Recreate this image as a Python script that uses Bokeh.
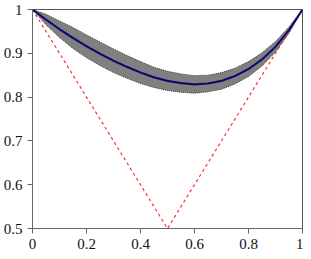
from bokeh.plotting import figure
from bokeh.models import FixedTicker, CustomJSTickFormatter, Range1d
from bokeh.embed import file_html
from bokeh.resources import INLINE

# data
x_vals = [0.00, 0.05, 0.10, 0.15, 0.20, 0.25, 0.30, 0.35, 0.40, 0.45, 0.50,
          0.55, 0.60, 0.65, 0.70, 0.75, 0.80, 0.85, 0.90, 0.95, 1.00]
mean_vals = [1.000, 0.977, 0.955, 0.935, 0.916, 0.899, 0.883, 0.869, 0.856, 0.845, 0.837,
             0.832, 0.829, 0.831, 0.837, 0.848, 0.864, 0.886, 0.915, 0.953, 1.000]
band_upper = [1.000, 0.989, 0.974, 0.959, 0.942, 0.926, 0.910, 0.895, 0.881, 0.868, 0.859,
              0.853, 0.849, 0.850, 0.856, 0.866, 0.881, 0.901, 0.927, 0.960, 1.000]
band_lower = [1.000, 0.965, 0.936, 0.911, 0.890, 0.872, 0.856, 0.843, 0.831, 0.822, 0.815,
              0.811, 0.809, 0.812, 0.818, 0.830, 0.847, 0.871, 0.903, 0.946, 1.000]
ref_x = [0.0, 0.5, 1.0]
ref_y = [1.0, 0.5, 1.0]
x_ticks = [0, 0.2, 0.4, 0.6, 0.8, 1.0]
y_ticks = [0.5, 0.6, 0.7, 0.8, 0.9, 1.0]

FONT = "Liberation Serif"

p = figure(width=303, height=251, output_backend="svg", toolbar_location=None,
           x_range=Range1d(0, 1), y_range=Range1d(0.5, 1))
p.min_border = 0
p.min_border_top = 9
p.min_border_right = 1
p.background_fill_color = "white"
p.border_fill_color = "white"
p.outline_line_color = "#555555"
p.outline_line_width = 1
p.xgrid.visible = False
p.ygrid.visible = False

fmt = CustomJSTickFormatter(code="return (Math.round(tick*10)/10).toString();")
for ax, ticks in ((p.xaxis, x_ticks), (p.yaxis, y_ticks)):
    ax.ticker = FixedTicker(ticks=ticks)
    ax.formatter = fmt
    ax.axis_line_color = "#666666"
    ax.major_tick_line_color = "#666666"
    ax.major_tick_out = 5
    ax.major_tick_in = 0
    ax.minor_tick_line_color = None
    ax.major_label_text_font = FONT
    ax.major_label_text_font_size = "15px"
    ax.major_label_text_color = "#111111"
p.yaxis.major_label_standoff = 5
p.xaxis.major_label_standoff = 5

p.varea(x=x_vals, y1=band_lower, y2=band_upper, fill_color="#808080", fill_alpha=1.0)
p.line(x_vals, band_upper, line_color="#333333", line_width=1, line_dash="1 1")
p.line(x_vals, band_lower, line_color="#333333", line_width=1, line_dash="1 1")
p.line(ref_x, ref_y, line_color="#ff3030", line_width=1.2, line_dash="3 3")
p.line(x_vals, mean_vals, line_color="#1a1aa0", line_width=2.2)
p.line(x_vals, mean_vals, line_color="#000000", line_width=0.8)

open("out.html", "w").write(file_html(p, INLINE))
